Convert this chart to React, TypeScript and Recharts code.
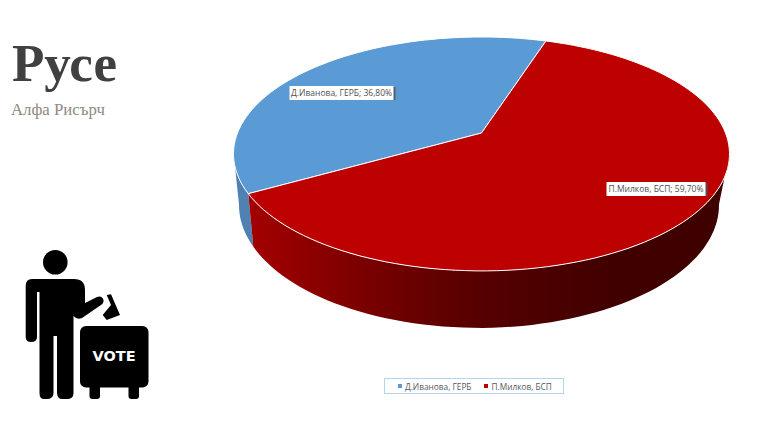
import React from 'react';
import { PieChart, Pie, Legend } from 'recharts';

const candidates = ['Д.Иванова, ГЕРБ', 'П.Милков, БСП'];
const shares = [36.8, 59.7];
const sliceColors = ['#5b9bd5', '#bd0000'];
const sideColors = ['#4f81b3', 'url(#redSide)'];

const pieData = candidates.map((name, i) => ({ name, value: shares[i], fill: sliceColors[i] }));

// the picture is an Excel 3D pie, so the flat circle goes through a perspective map
const TILT = 113.2 / 244;
const PERSPECTIVE = 0.179;

const project = (cx: number, cy: number, r: number, angle: number) => {
  const rad = (angle * Math.PI) / 180;
  const u = Math.cos(rad);
  const v = Math.sin(rad);
  const d = 1 + PERSPECTIVE * v;
  return { x: cx + (r * u) / d, y: cy - (r * TILT * v) / d };
};

// bottom rim of the wall
const lower = (p: { x: number; y: number }, cx: number) => ({
  x: 479 + (240 / 248) * (p.x - cx),
  y: 205 + (123 / 117) * (p.y - 154),
});

const arcPoints = (cx: number, cy: number, r: number, from: number, to: number) => {
  const pts = [];
  const steps = Math.max(2, Math.ceil(Math.abs(to - from) / 2));
  for (let i = 0; i <= steps; i++) {
    pts.push(project(cx, cy, r, from + ((to - from) * i) / steps));
  }
  return pts;
};

const toPath = (pts: { x: number; y: number }[]) =>
  pts.map((p, i) => `${i ? 'L' : 'M'}${p.x.toFixed(1)} ${p.y.toFixed(1)}`).join(' ');

const Slice3D = (props: any) => {
  const { cx, cy, outerRadius, startAngle, endAngle, fill, index } = props;
  const from = Math.min(startAngle, endAngle);
  const to = Math.max(startAngle, endAngle);
  const rim = arcPoints(cx, cy, outerRadius, from, to);
  const sideFrom = Math.max(from, 190);
  const sideTo = Math.min(to, 350);
  const sideTop = arcPoints(cx, cy, outerRadius, sideFrom, sideTo);
  const sideBottom = sideTop.map((p) => lower(p, cx)).reverse();
  return (
    <g>
      <defs>
        <linearGradient id="redSide" gradientUnits="userSpaceOnUse" x1="245" y1="0" x2="725" y2="0">
          <stop offset="0%" stopColor="#a50000" />
          <stop offset="32%" stopColor="#6e0000" />
          <stop offset="49%" stopColor="#560000" />
          <stop offset="78%" stopColor="#400000" />
          <stop offset="100%" stopColor="#3e0000" />
        </linearGradient>
      </defs>
      <path d={toPath([...sideTop, ...sideBottom]) + ' Z'} fill={sideColors[index]} stroke="none" />
      <path d={toPath([{ x: cx, y: cy }, ...rim]) + ' Z'} fill={fill} stroke="#ffffff" strokeWidth={1} />
    </g>
  );
};

const labelBoxes = [
  { x: 289.5, y: 86, width: 104 },
  { x: 606.5, y: 182, width: 99 },
];

const SliceLabel = (props: any) => {
  const { index, name, value } = props;
  const box = labelBoxes[index];
  const text = `${name}; ${value.toFixed(2).replace('.', ',')}%`;
  return (
    <g>
      <rect x={box.x + 2} y={box.y + 1} width={box.width} height={13} fill="#50545e" opacity={0.85} />
      <rect x={box.x} y={box.y} width={box.width} height={14} fill="#ffffff" />
      <text
        x={box.x + box.width / 2}
        y={box.y + 10}
        textAnchor="middle"
        fontFamily="'Open Sans', sans-serif"
        fontSize={8.5}
        fill="#505050"
      >
        {text}
      </text>
    </g>
  );
};

const LegendBox = ({ payload }: any) => (
  <div
    style={{
      display: 'flex',
      alignItems: 'center',
      height: '100%',
      paddingLeft: 13,
      fontFamily: "'Open Sans', sans-serif",
      fontSize: 8.3,
      color: '#595959',
    }}
  >
    {(payload || []).map((entry: any, i: number) => (
      <span key={entry.value} style={{ display: 'flex', alignItems: 'center', marginLeft: i ? 13 : 0 }}>
        <span style={{ width: 4, height: 4, marginRight: 3, background: sliceColors[i] }} />
        {entry.value}
      </span>
    ))}
  </div>
);

const VoteIcon = () => (
  <svg width={768} height={440} style={{ position: 'absolute', left: 0, top: 0 }}>
    <circle cx={55.3} cy={262.3} r={12.3} fill="#000" />
    <path
      d="M32 279 H74 Q85 279 85 290 V303 L97 297 Q102 295 103.5 300 Q104 303 101 305 L82 318 Q77 320 73.5 316 V393 Q73.5 399 67 399 H62 Q57.5 399 57 393 V336 H53.5 V393 Q53 399 47 399 H44 Q39.5 399 39.5 393 V292 H37 V337 Q37 342 31 342 Q25.7 342 25.7 337 V286 Q25.7 279 32 279 Z"
      fill="#000"
    />
    <path d="M106.7 295 L111 294.3 L120 315 L106.7 320 L102.7 315 L111 305 Z" fill="#000" />
    <rect x={80} y={326} width={68.5} height={61.5} rx={6} fill="#000" />
    <path d="M89.5 386 H100 V396 Q100 399 97 399 H92.5 Q89.5 399 89.5 396 Z" fill="#000" />
    <path d="M128.5 386 H139 V396 Q139 399 136 399 H131.5 Q128.5 399 128.5 396 Z" fill="#000" />
    <text
      x={114}
      y={361}
      textAnchor="middle"
      fontFamily="'DejaVu Sans', sans-serif"
      fontWeight="bold"
      fontSize={14.5}
      fill="#fff"
    >
      VOTE
    </text>
  </svg>
);

export default function App() {
  return (
    <div style={{ position: 'absolute', left: 0, top: 0, width: 768, height: 440, background: '#fff', overflow: 'hidden' }}>
      <div
        style={{
          position: 'absolute',
          left: 12,
          top: 33,
          fontFamily: "'Liberation Serif', serif",
          fontWeight: 'bold',
          fontSize: 53,
          lineHeight: '60px',
          color: '#404040',
        }}
      >
        Русе
      </div>
      <div
        style={{
          position: 'absolute',
          left: 11,
          top: 100,
          fontFamily: "'Liberation Serif', serif",
          fontSize: 16.8,
          lineHeight: '20px',
          color: '#8f8a84',
        }}
      >
        Алфа Рисърч
      </div>
      <VoteIcon />
      <div style={{ position: 'absolute', left: 0, top: 0 }}>
        <PieChart width={768} height={440} margin={{ top: 0, right: 0, bottom: 0, left: 0 }}>
          <Pie
            data={pieData}
            dataKey="value"
            nameKey="name"
            cx={481.5}
            cy={133}
            outerRadius={244}
            startAngle={72}
            endAngle={432}
            shape={Slice3D}
            label={SliceLabel}
            labelLine={false}
            isAnimationActive={false}
          />
          <Legend
            verticalAlign="bottom"
            content={LegendBox}
            wrapperStyle={{
              position: 'absolute',
              left: 384,
              top: 378,
              bottom: 'auto',
              width: 180,
              height: 16,
              boxSizing: 'border-box',
              border: '1px solid #b5d5ee',
            }}
          />
        </PieChart>
      </div>
    </div>
  );
}
